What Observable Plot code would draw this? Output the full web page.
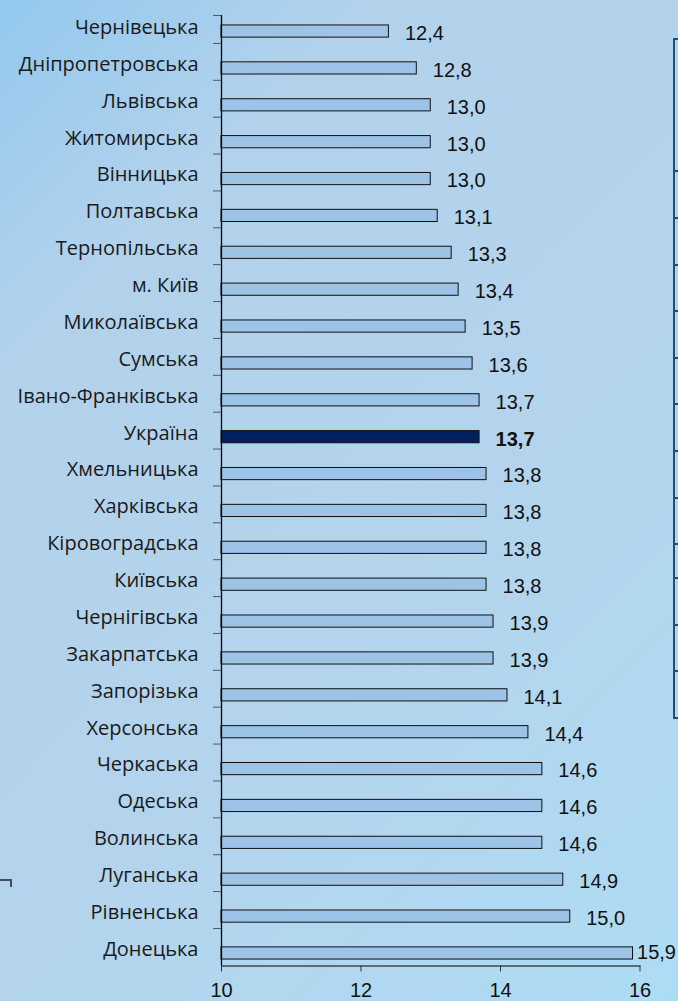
<!DOCTYPE html>
<html>
<head>
<meta charset="utf-8">
<script src="https://cdn.jsdelivr.net/npm/d3@7"></script>
<script src="https://cdn.jsdelivr.net/npm/@observablehq/plot@0.6"></script>
<style>
  html, body { margin: 0; padding: 0; }
  body {
    width: 678px; height: 1001px; overflow: hidden; position: relative;
    background: linear-gradient(135deg, #93c8ee 0%, #b2d2ec 22%, #b4d3ec 55%, #b1d8f0 80%, #acdcf4 100%);
  }
  #chart { position: absolute; left: 0; top: 0; }
  #chart g[aria-label="y-axis tick label"] text {
    font-family: 'Open Sans', 'Noto Sans', sans-serif !important;
    font-size: 20px !important; font-weight: 400 !important;
  }
  #chart g[aria-label="x-axis tick label"] text {
    font-family: 'Liberation Sans', Arial, sans-serif !important;
    font-size: 20px !important;
  }
  #tbl { position: absolute; left: 673px; top: 38px; width: 20px; height: 677px;
         border: 2px solid #1f4e79; border-right: none; }
  #tbl div { position: absolute; left: 0; width: 20px; height: 0; border-top: 2px solid #1f4e79; }
  #brk { position: absolute; left: 0; top: 879px; width: 10px; height: 6px;
         border-top: 2px solid #3f4f5f; border-right: 2px solid #3f4f5f; }
</style>
</head>
<body>
<div id="chart"></div>
<div id="tbl"></div>
<div id="brk"></div>
<script>
const regions = ["Чернівецька","Дніпропетровська","Львівська","Житомирська","Вінницька","Полтавська","Тернопільська","м. Київ","Миколаївська","Сумська","Івано-Франківська","Україна","Хмельницька","Харківська","Кіровоградська","Київська","Чернігівська","Закарпатська","Запорізька","Херсонська","Черкаська","Одеська","Волинська","Луганська","Рівненська","Донецька"];
const values = [12.4,12.8,13.0,13.0,13.0,13.1,13.3,13.4,13.5,13.6,13.7,13.7,13.8,13.8,13.8,13.8,13.9,13.9,14.1,14.4,14.6,14.6,14.6,14.9,15.0,15.9];
const xTicks = [10,12,14,16];
const highlight = "Україна";

const data = regions.map((r, i) => ({region: r, value: values[i]}));
const fmt = v => v.toFixed(1).replace(".", ",");
const labelFont = "Open Sans";
const numFont = "Liberation Sans";

const chart = Plot.plot({
  width: 678,
  height: 1001,
  marginLeft: 221,
  marginRight: 38.5,
  marginTop: 15,
  marginBottom: 35.5,
  style: {background: "transparent", overflow: "visible", fontFamily: labelFont},
  x: {domain: [10, 16], axis: null},
  y: {domain: regions, range: [12.6, 971.4], paddingInner: 0.67, paddingOuter: 0.335, round: false, axis: null},
  marks: [
    Plot.barX(data, {
      x1: 10, x2: "value", y: "region",
      fill: d => d.region === highlight ? "#002060" : "#9dc3e6",
      stroke: "#111111", strokeWidth: 1
    }),
    Plot.ruleX([10], {stroke: "#000", strokeWidth: 1.3}),
    Plot.frame({anchor: "bottom", stroke: "#000", strokeWidth: 1}),
    Plot.axisY({
      tickSize: 0, tickPadding: 23, dy: -4, label: null,
      fontSize: 20, fontFamily: labelFont, fill: "#1a1a1a"
    }),
    Plot.axisY(regions.slice(1), {
      tickSize: 8, tickFormat: () => "", dy: -25, label: null, stroke: "#4a5866"
    }),
    Plot.axisY(regions.slice(0, 1), {
      tickSize: 8, tickFormat: () => "", dy: -16, label: null, stroke: "#4a5866"
    }),
    Plot.axisX({
      ticks: xTicks, tickFormat: d => String(d), tickSize: 6, tickPadding: 11, label: null,
      fontSize: 20, fontFamily: numFont, fill: "#111", stroke: "#333"
    }),
    Plot.text(data.filter(d => d.region !== highlight && d.value < 15.5), {
      x: "value", y: "region", text: d => fmt(d.value),
      dx: 16, dy: 2, textAnchor: "start",
      fontSize: 20, fontFamily: numFont, fill: "#111"
    }),
    Plot.text(data.filter(d => d.region === highlight), {
      x: "value", y: "region", text: d => fmt(d.value),
      dx: 16, dy: 2, textAnchor: "start", fontWeight: "bold",
      fontSize: 20, fontFamily: numFont, fill: "#111"
    }),
    Plot.text(data.filter(d => d.value >= 15.5), {
      x: "value", y: "region", text: d => fmt(d.value),
      dx: 4, dy: -1, textAnchor: "start",
      fontSize: 20, fontFamily: numFont, fill: "#111"
    })
  ]
});
document.getElementById("chart").appendChild(chart);

const tbl = document.getElementById("tbl");
[130, 177, 224, 270, 317, 363, 410, 457, 503, 537, 584, 630].forEach(t => {
  const d = document.createElement("div");
  d.style.top = t + "px";
  tbl.appendChild(d);
});
</script>
</body>
</html>
